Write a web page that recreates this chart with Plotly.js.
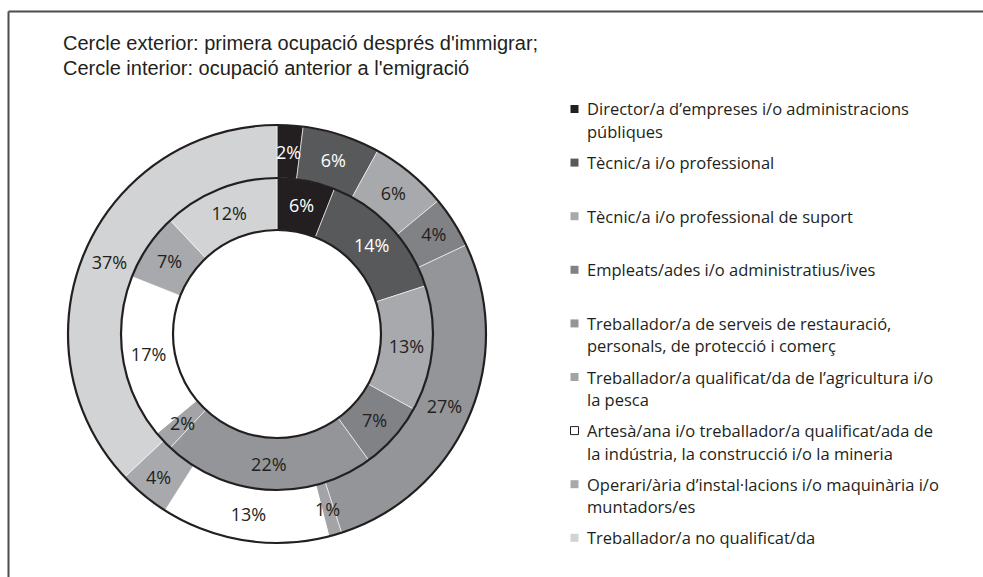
<!DOCTYPE html>
<html><head><meta charset="utf-8">
<script src="https://cdn.plot.ly/plotly-3.0.1.min.js"></script>
<style>html,body{margin:0;padding:0;background:#fff;overflow:hidden}</style>
</head><body><div id="chart" style="width:983px;height:577px"></div>
<script>
// ---- data ----
const categories = [
  "Director/a d\u2019empreses i/o administracions<br>públiques",
  "Tècnic/a i/o professional",
  "Tècnic/a i/o professional de suport",
  "Empleats/ades i/o administratius/ives",
  "Treballador/a de serveis de restauració,<br>personals, de protecció i comerç",
  "Treballador/a qualificat/da de l\u2019agricultura i/o<br>la pesca",
  "Artesà/ana i/o treballador/a qualificat/ada de<br>la indústria, la construcció i/o la mineria",
  "Operari/ària d\u2019instal·lacions i/o maquinària i/o<br>muntadors/es",
  "Treballador/a no qualificat/da"
];
const outerValues = [2, 6, 6, 4, 27, 1, 13, 4, 37];   // primera ocupació després d'immigrar
const innerValues = [6, 14, 13, 7, 22, 2, 17, 7, 12]; // ocupació anterior a l'emigració
const sliceColors = ["#231f20", "#58595b", "#a7a9ac", "#808285", "#939598", "#a3a4a7", "#ffffff", "#a7a9ac", "#d1d3d4"];
const labelColors = ["#ffffff", "#ffffff", "#231f20", "#231f20", "#231f20", "#231f20", "#231f20", "#231f20", "#231f20"];
const titleLines = [
  "Cercle exterior: primera ocupació després d'immigrar;",
  "Cercle interior: ocupació anterior a l'emigració"
];

// ---- geometry (pixels) ----
const W = 983, H = 577;
const cx = 277, cy = 334, R = 209, R1 = 156, R0 = 104;
const SMALL = 2; // slices this small get their label centred in the ring
function dom(r) { return { x: [(cx - r) / W, (cx + r) / W], y: [(H - cy - r) / H, (H - cy + r) / H] }; }
function circ(r) {
  return { type: "circle", xref: "paper", yref: "paper",
    x0: (cx - r) / W, x1: (cx + r) / W, y0: (H - cy - r) / H, y1: (H - cy + r) / H,
    line: { color: "#231f20", width: 2.2 }, fillcolor: "rgba(0,0,0,0)", layer: "above" };
}
const pctFamily = "Open Sans, Noto Sans, sans-serif";
const labelFont = { family: pctFamily, size: 18, color: labelColors };

function pieTrace(values, r, hole, name) {
  return {
    type: "pie", name: name, labels: categories, values: values, sort: false,
    direction: "clockwise", rotation: 0, hole: hole, domain: dom(r),
    marker: { colors: sliceColors, line: { color: "#ffffff", width: 0.6 } },
    texttemplate: values.map(v => v <= SMALL ? "" : "%{value}%"),
    textposition: "inside", insidetextorientation: "horizontal",
    textfont: labelFont, insidetextfont: labelFont, showlegend: false, hoverinfo: "label+value"
  };
}

const traces = [
  pieTrace(outerValues, R, R1 / R, "Cercle exterior"),
  pieTrace(innerValues, R1, R0 / R1, "Cercle interior")
];

const annotations = [];
// labels of very thin slices: placed at the middle of the ring, at the slice's mid-angle
function smallLabels(values, rIn, rOut) {
  const total = values.reduce((a, b) => a + b, 0);
  let cum = 0;
  values.forEach((v, i) => {
    const mid = (cum + v / 2) / total * 2 * Math.PI;
    cum += v;
    if (v > SMALL) return;
    const rm = (rIn + rOut) / 2;
    const px = cx + rm * Math.sin(mid), py = cy - rm * Math.cos(mid);
    annotations.push({ text: v + "%", xref: "paper", yref: "paper", x: px / W, y: 1 - py / H,
      xanchor: "center", yanchor: "middle", showarrow: false,
      font: { family: pctFamily, size: 18, color: labelColors[i] } });
  });
}
smallLabels(outerValues, R1, R);
smallLabels(innerValues, R0, R1);

const shapes = [circ(R), circ(R1), circ(R0),
  { type: "line", xref: "paper", yref: "paper", x0: 8.5 / W, x1: 1, y0: 1 - 11.5 / H, y1: 1 - 11.5 / H, line: { color: "#4d4d4f", width: 2 } },
  { type: "line", xref: "paper", yref: "paper", x0: 8.5 / W, x1: 8.5 / W, y0: 0, y1: 1 - 11.5 / H, line: { color: "#4d4d4f", width: 2 } }
];
const txtFont = { family: "Open Sans, Noto Sans, sans-serif", size: 16.5, color: "#231f20" };
titleLines.forEach((t, i) => {
  annotations.push({ text: t, xref: "paper", yref: "paper", x: 61 / W, y: 1 - (43 + 25 * i) / H,
    xanchor: "left", yanchor: "middle", showarrow: false,
    font: { family: "Liberation Sans Narrow, Arial Narrow, sans-serif", size: 20, color: "#231f20" } });
});
categories.forEach((c, i) => {
  const yc = 109 + 53.6 * i;
  c.split("<br>").forEach((line, j) => {
    annotations.push({ text: line, xref: "paper", yref: "paper", x: 585 / W, y: 1 - (yc + 22.5 * j) / H,
      xanchor: "left", yanchor: "middle", showarrow: false, font: txtFont });
  });
  shapes.push({ type: "rect", xref: "paper", yref: "paper",
    x0: 570.5 / W, x1: 578.5 / W, y0: 1 - (yc + 4) / H, y1: 1 - (yc - 4) / H,
    fillcolor: sliceColors[i], line: { color: i === 6 ? "#231f20" : sliceColors[i], width: i === 6 ? 1 : 0 } });
});

const layout = {
  width: W, height: H, margin: { l: 0, r: 0, t: 0, b: 0 },
  paper_bgcolor: "#ffffff", plot_bgcolor: "#ffffff", showlegend: false,
  uniformtext: { mode: "show", minsize: 18 },
  shapes: shapes, annotations: annotations
};
Plotly.newPlot("chart", traces, layout, { displayModeBar: false, staticPlot: true });
</script>
</body></html>
